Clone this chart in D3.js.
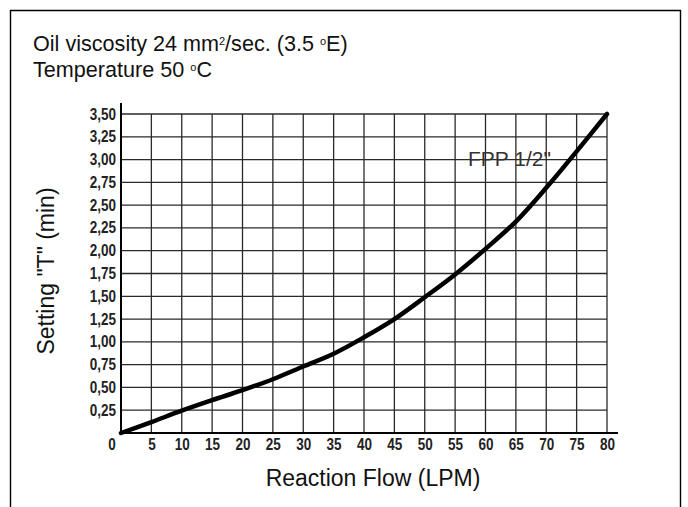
<!DOCTYPE html>
<html>
<head>
<meta charset="utf-8">
<script src="https://cdn.jsdelivr.net/npm/d3@7"></script>
<style>
  body { margin: 0; background: #fff; }
  svg { display: block; font-family: "Liberation Sans", Arial, sans-serif; }
</style>
</head>
<body>
<div id="chart"></div>
<script>
// curve: reaction flow (LPM) vs setting T (min)
const flow = [0, 5, 10, 15, 20, 25, 30, 35, 40, 45, 50, 55, 60, 65, 70, 75, 80];
const setting = [0, 0.12, 0.245, 0.36, 0.47, 0.59, 0.73, 0.87, 1.05, 1.25, 1.49, 1.74, 2.02, 2.32, 2.69, 3.09, 3.5];

const xTicks = [5, 10, 15, 20, 25, 30, 35, 40, 45, 50, 55, 60, 65, 70, 75, 80];
const yTicks = [0.25, 0.5, 0.75, 1, 1.25, 1.5, 1.75, 2, 2.25, 2.5, 2.75, 3, 3.25, 3.5];

const seriesLabel = 'FPP 1/2"';
const xTitle = "Reaction Flow (LPM)";
const yTitle = 'Setting "T" (min)';
// title pieces, true = small raised text
const titleLines = [
  [["Oil viscosity 24 mm", false], ["2", true], ["/sec. (3.5 ", false], ["o", true], ["E)", false]],
  [["Temperature 50 ", false], ["o", true], ["C", false]]
];

const width = 688;
const height = 507;

const svg = d3.select("#chart").append("svg")
  .attr("width", width)
  .attr("height", height);

// outer frame, open at the bottom
svg.append("path")
  .attr("d", `M10.5,${height} V10.5 H680.5 V${height}`)
  .attr("fill", "none")
  .attr("stroke", "#000")
  .attr("stroke-width", 1.4);

// title
titleLines.forEach((parts, i) => {
  const t = svg.append("text")
    .attr("x", 33)
    .attr("y", 51 + i * 26)
    .style("font-size", "21.6px")
    .attr("fill", "#111");
  let raised = false;
  parts.forEach(([s, sup]) => {
    const span = t.append("tspan").text(s);
    if (sup && !raised) { span.attr("dy", -6).style("font-size", "11px"); raised = true; }
    else if (!sup && raised) { span.attr("dy", 6); raised = false; }
  });
});

const x = d3.scaleLinear().domain([0, 80]).range([121, 607]);
const y = d3.scaleLinear().domain([0, 3.5]).range([433, 114]);

const comma = d3.formatLocale({ decimal: ",", thousands: ".", grouping: [3], currency: ["", ""] }).format(".2f");

// grid
const grid = svg.append("g").attr("stroke", "#2a2a2a").attr("stroke-width", 1.3);
grid.selectAll(".vgrid")
  .data(xTicks)
  .enter().append("line")
  .attr("class", "vgrid")
  .attr("x1", d => x(d)).attr("x2", d => x(d))
  .attr("y1", y(0)).attr("y2", y(3.5));
grid.selectAll(".hgrid")
  .data(yTicks)
  .enter().append("line")
  .attr("class", "hgrid")
  .attr("x1", x(0)).attr("x2", x(80))
  .attr("y1", d => y(d)).attr("y2", d => y(d));

// axes
const xAxis = svg.append("g")
  .attr("transform", `translate(0, ${y(0)})`)
  .call(d3.axisBottom(x).tickValues(xTicks).tickSize(0).tickPadding(0));
xAxis.select(".domain").remove();
xAxis.selectAll(".tick text")
  .attr("y", 0)
  .attr("dy", 0)
  .attr("transform", "translate(0, 16.5) scale(1, 1.2)")
  .style("font-size", "13.5px")
  .style("font-weight", "bold")
  .attr("fill", "#222");

const yAxis = svg.append("g")
  .attr("transform", `translate(${x(0)}, 0)`)
  .call(d3.axisLeft(y).tickValues(yTicks).tickSize(0).tickPadding(0).tickFormat(comma));
yAxis.select(".domain").remove();
yAxis.selectAll(".tick text")
  .attr("x", 0)
  .attr("dy", 0)
  .attr("transform", "translate(-5, 5) scale(1, 1.2)")
  .style("font-size", "13.5px")
  .style("font-weight", "bold")
  .attr("fill", "#222");

// shared zero at the corner
svg.append("text")
  .attr("text-anchor", "middle")
  .attr("transform", `translate(${x(0) - 9}, ${y(0) + 16.5}) scale(1, 1.2)`)
  .style("font-size", "13.5px")
  .style("font-weight", "bold")
  .attr("fill", "#222")
  .text("0");

// axis lines
svg.append("line")
  .attr("x1", x(0)).attr("x2", x(0))
  .attr("y1", 103).attr("y2", y(0))
  .attr("stroke", "#000").attr("stroke-width", 2);
svg.append("line")
  .attr("x1", x(0)).attr("x2", 618)
  .attr("y1", y(0)).attr("y2", y(0))
  .attr("stroke", "#000").attr("stroke-width", 2);

// series label
svg.append("text")
  .attr("x", 468)
  .attr("y", 166)
  .style("font-size", "21px")
  .attr("fill", "#333")
  .text(seriesLabel);

// curve
const line = d3.line()
  .x((d, i) => x(flow[i]))
  .y(d => y(d))
  .curve(d3.curveCatmullRom);

svg.append("path")
  .datum(setting)
  .attr("d", line)
  .attr("fill", "none")
  .attr("stroke", "#000")
  .attr("stroke-width", 4.5)
  .attr("stroke-linecap", "round");

// axis titles
svg.append("text")
  .attr("x", 373)
  .attr("y", 486)
  .attr("text-anchor", "middle")
  .style("font-size", "23px")
  .attr("fill", "#111")
  .text(xTitle);

svg.append("text")
  .attr("transform", "translate(54, 271) rotate(-90)")
  .attr("text-anchor", "middle")
  .style("font-size", "23px")
  .attr("fill", "#111")
  .text(yTitle);
</script>
</body>
</html>
